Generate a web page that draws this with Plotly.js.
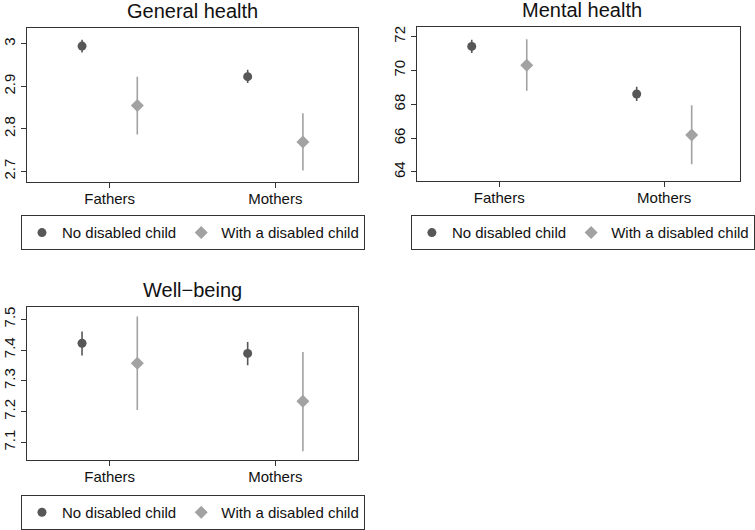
<!DOCTYPE html>
<html>
<head>
<meta charset="utf-8">
<script src="https://cdn.plot.ly/plotly-3.0.1.min.js"></script>
<style>html,body{margin:0;padding:0;background:#fff;}#chart{width:755px;height:530px;}</style>
</head>
<body>
<div id="chart"></div>
<script>
// ---- data ----
const categories = ["Fathers", "Mothers"];
const seriesNames = ["No disabled child", "With a disabled child"];
const panelTitles = ["General health", "Mental health", "Well\u2212being"];

// General health
const ghNo = [2.995, 2.923];
const ghNoLo = [2.980, 2.908];
const ghNoHi = [3.010, 2.939];
const ghWith = [2.855, 2.769];
const ghWithLo = [2.787, 2.702];
const ghWithHi = [2.923, 2.837];

// Mental health
const mhNo = [71.42, 68.61];
const mhNoLo = [71.03, 68.20];
const mhNoHi = [71.81, 69.04];
const mhWith = [70.30, 66.19];
const mhWithLo = [68.80, 64.45];
const mhWithHi = [71.85, 67.95];

// Well-being
const wbNo = [7.422, 7.389];
const wbNoLo = [7.382, 7.351];
const wbNoHi = [7.460, 7.426];
const wbWith = [7.357, 7.234];
const wbWithLo = [7.205, 7.071];
const wbWithHi = [7.509, 7.394];

// tick labels
const ghTicks = [2.7, 2.8, 2.9, 3];
const mhTicks = [64, 66, 68, 70, 72];
const wbTicks = [7.1, 7.2, 7.3, 7.4, 7.5];

// ---- styles ----
const darkCol = "#575757";
const lightCol = "#a2a2a2";
const FONT = "Liberation Sans, Arial, Helvetica, sans-serif";

function errBar(v, lo, hi, col) {
  return {
    type: "data", symmetric: false,
    array: v.map((d, i) => hi[i] - d),
    arrayminus: v.map((d, i) => d - lo[i]),
    color: col, thickness: 1.6, width: 0
  };
}

function pair(no, noLo, noHi, wi, wiLo, wiHi, xa, ya, leg) {
  return [
    {
      type: "scatter", mode: "markers", x: categories, y: no,
      name: seriesNames[0], xaxis: xa, yaxis: ya, legend: leg,
      marker: {symbol: "circle", size: 9, color: darkCol},
      error_y: errBar(no, noLo, noHi, darkCol),
      cliponaxis: false
    },
    {
      type: "scatter", mode: "markers", x: categories, y: wi,
      name: seriesNames[1], xaxis: xa, yaxis: ya, legend: leg,
      marker: {symbol: "diamond", size: 10, color: lightCol},
      error_y: errBar(wi, wiLo, wiHi, lightCol),
      cliponaxis: false
    }
  ];
}

const data = [].concat(
  pair(ghNo, ghNoLo, ghNoHi, ghWith, ghWithLo, ghWithHi, "x", "y", "legend"),
  pair(mhNo, mhNoLo, mhNoHi, mhWith, mhWithLo, mhWithHi, "x2", "y2", "legend2"),
  pair(wbNo, wbNoLo, wbNoHi, wbWith, wbWithLo, wbWithHi, "x3", "y3", "legend3")
);

const W = 755, H = 530;
function px(x) { return x / W; }
function py(y) { return 1 - y / H; }

function xAxis(l, r, range, anchor) {
  return {
    domain: [px(l), px(r)], anchor: anchor, type: "category",
    range: range, showgrid: false, zeroline: false,
    showline: true, mirror: true, linecolor: "#333", linewidth: 1,
    ticks: "outside", ticklen: 5, tickcolor: "#333", tickwidth: 1,
    ticklabelstandoff: -2,
    tickfont: {family: FONT, size: 15, color: "#111"}, fixedrange: true
  };
}
function yAxis(t, b, range, tickvals, anchor) {
  return {
    domain: [py(b), py(t)], anchor: anchor, range: range,
    tickvals: tickvals, ticktext: tickvals.map(String),
    tickangle: -90, showgrid: false, zeroline: false,
    showline: true, mirror: true, linecolor: "#333", linewidth: 1,
    ticks: "outside", ticklen: 5, tickcolor: "#333", tickwidth: 1,
    tickfont: {family: FONT, size: 15, color: "#111"}, fixedrange: true
  };
}
function legendAt(cx, top) {
  return {
    orientation: "h", x: px(cx), xanchor: "center", y: py(top), yanchor: "top",
    bordercolor: "#333", borderwidth: 1, bgcolor: "#fff",
    font: {family: FONT, size: 15, color: "#111"},
    itemclick: false, itemdoubleclick: false
  };
}
function titleAnn(text, xa, ytop) {
  return {
    text: text, xref: "paper", yref: "paper", x: xa, y: ytop,
    xanchor: "center", yanchor: "bottom", yshift: 4, showarrow: false,
    font: {family: FONT, size: 20, color: "#111"}
  };
}

const layout = {
  width: W, height: H,
  margin: {l: 0, r: 0, t: 0, b: 0},
  paper_bgcolor: "#fff", plot_bgcolor: "#fff",
  font: {family: FONT, color: "#111"},
  scattermode: "group", scattergap: 0.333,
  showlegend: true,
  xaxis: xAxis(27, 360, [-0.5, 1.5], "y"),
  yaxis: yAxis(28, 183, [2.676, 3.038], ghTicks, "x"),
  xaxis2: xAxis(419, 744, [-0.5, 1.46], "y2"),
  yaxis2: yAxis(27.5, 182.5, [63.46, 72.55], mhTicks, "x2"),
  xaxis3: xAxis(27, 360, [-0.5, 1.5], "y3"),
  yaxis3: yAxis(309.3, 463.7, [7.042, 7.54], wbTicks, "x3"),
  legend: legendAt(194, 217),
  legend2: legendAt(586, 217),
  legend3: legendAt(194, 499),
  annotations: [
    titleAnn(panelTitles[0], px(193.5), py(28)),
    titleAnn(panelTitles[1], px(585), py(27.5)),
    titleAnn(panelTitles[2], px(193.5), py(309.3))
  ]
};

Plotly.newPlot("chart", data, layout, {displayModeBar: false, staticPlot: true});
</script>
</body>
</html>
